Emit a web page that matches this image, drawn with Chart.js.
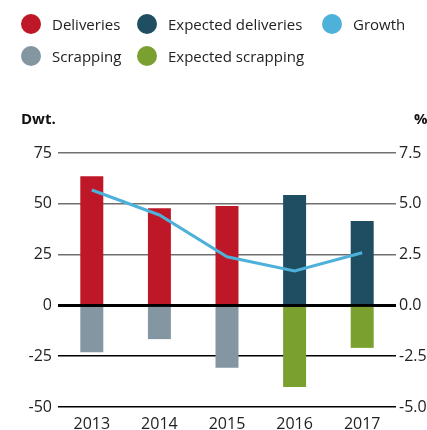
<!DOCTYPE html>
<html>
<head>
<meta charset="utf-8">
<script src="https://cdn.jsdelivr.net/npm/chart.js@4"></script>
<style>
    html, body { margin: 0; padding: 0; background: #fff; }
    body { width: 427px; height: 430px; position: relative; overflow: hidden; font-family: 'Open Sans', sans-serif; }
    #chart-wrap { position: absolute; left: 0; top: 0; width: 427px; height: 430px; }
    .legend-item { position: absolute; height: 22px; line-height: 22px; font-size: 15px; color: #222; white-space: nowrap; }
    .legend-dot { position: absolute; width: 20px; height: 20px; border-radius: 50%; }
</style>
</head>
<body>
<div id="chart-wrap"><canvas id="fleetChart" width="427" height="430"></canvas></div>
<div id="legend"></div>
<script>
// Data
const years = ['2013', '2014', '2015', '2016', '2017'];
const deliveries = [63.5, 47.8, 48.9, null, null];
const expectedDeliveries = [null, null, null, 54.3, 41.5];
const scrapping = [-23.1, -16.6, -30.7, null, null];
const expectedScrapping = [null, null, null, -40.1, -20.9];
const growth = [5.68, 4.45, 2.39, 1.70, 2.59];

const colors = {
    deliveries: '#be1727',
    expectedDeliveries: '#1f4e63',
    growth: '#4db1d9',
    scrapping: '#8596a3',
    expectedScrapping: '#7aa12f'
};

document.addEventListener('DOMContentLoaded', function() {
    renderLegend();
    initializeFleetChart();
});

function renderLegend() {
    const items = [
        { label: 'Deliveries', color: colors.deliveries, x: 21, y: 13 },
        { label: 'Expected deliveries', color: colors.expectedDeliveries, x: 137, y: 13 },
        { label: 'Growth', color: colors.growth, x: 322, y: 13 },
        { label: 'Scrapping', color: colors.scrapping, x: 21, y: 45 },
        { label: 'Expected scrapping', color: colors.expectedScrapping, x: 137, y: 45 }
    ];
    const container = document.getElementById('legend');
    items.forEach(item => {
        const el = document.createElement('div');
        el.className = 'legend-item';
        el.style.left = item.x + 'px';
        el.style.top = item.y + 'px';
        el.innerHTML = `<span class="legend-dot" style="left:0;top:1px;background:${item.color}"></span><span style="padding-left:31px">${item.label}</span>`;
        container.appendChild(el);
    });
}

// Draws the axis unit captions above the plot
const unitLabels = {
    id: 'unitLabels',
    afterDraw(chart) {
        const ctx = chart.ctx;
        ctx.save();
        ctx.fillStyle = '#111';
        ctx.textBaseline = 'middle';
        ctx.font = "bold 15px 'Open Sans'";
        ctx.textAlign = 'left';
        ctx.fillText('Dwt.', 21, 120);
        ctx.fillText('%', 414, 120);
        ctx.restore();
    }
};

function initializeFleetChart() {
    const ctx = document.getElementById('fleetChart');
    Chart.defaults.font.family = "'Open Sans'";
    Chart.defaults.font.size = 16;
    Chart.defaults.color = '#222';

    const barCommon = { stack: 'fleet', yAxisID: 'y', order: 2, barPercentage: 0.34, categoryPercentage: 1 };

    new Chart(ctx, {
        type: 'bar',
        data: {
            labels: years,
            datasets: [
                { type: 'line', label: 'Growth', data: growth, yAxisID: 'y1', borderColor: colors.growth, borderWidth: 3, pointRadius: 0, tension: 0, order: 0, fill: false },
                { label: 'Deliveries', data: deliveries, backgroundColor: colors.deliveries, ...barCommon },
                { label: 'Expected deliveries', data: expectedDeliveries, backgroundColor: colors.expectedDeliveries, ...barCommon },
                { label: 'Scrapping', data: scrapping, backgroundColor: colors.scrapping, ...barCommon },
                { label: 'Expected scrapping', data: expectedScrapping, backgroundColor: colors.expectedScrapping, ...barCommon }
            ]
        },
        options: {
            responsive: false,
            animation: false,
            layout: { padding: { top: 153, bottom: 0, left: 0, right: 0 } },
            plugins: {
                legend: { display: false },
                tooltip: { enabled: false }
            },
            scales: {
                x: {
                    stacked: true,
                    afterFit: scale => { scale.height = 23; },
                    grid: { display: false },
                    border: { display: false },
                    ticks: { padding: 0, color: '#222' }
                },
                y: {
                    stacked: true,
                    min: -50,
                    max: 75,
                    afterFit: scale => { scale.width = 58; },
                    ticks: { stepSize: 25, padding: 6, color: '#222' },
                    border: { display: false },
                    grid: {
                        drawTicks: false,
                        color: c => c.tick.value > 0 ? '#707070' : '#000',
                        lineWidth: c => c.tick.value === 0 ? 3 : 1.5
                    }
                },
                y1: {
                    position: 'right',
                    min: -5,
                    max: 7.5,
                    afterFit: scale => { scale.width = 31; },
                    ticks: { stepSize: 2.5, padding: 3, color: '#222', callback: v => v.toFixed(1) },
                    border: { display: false },
                    grid: { display: false, drawTicks: false }
                }
            }
        },
        plugins: [unitLabels]
    });
}
</script>
</body>
</html>
